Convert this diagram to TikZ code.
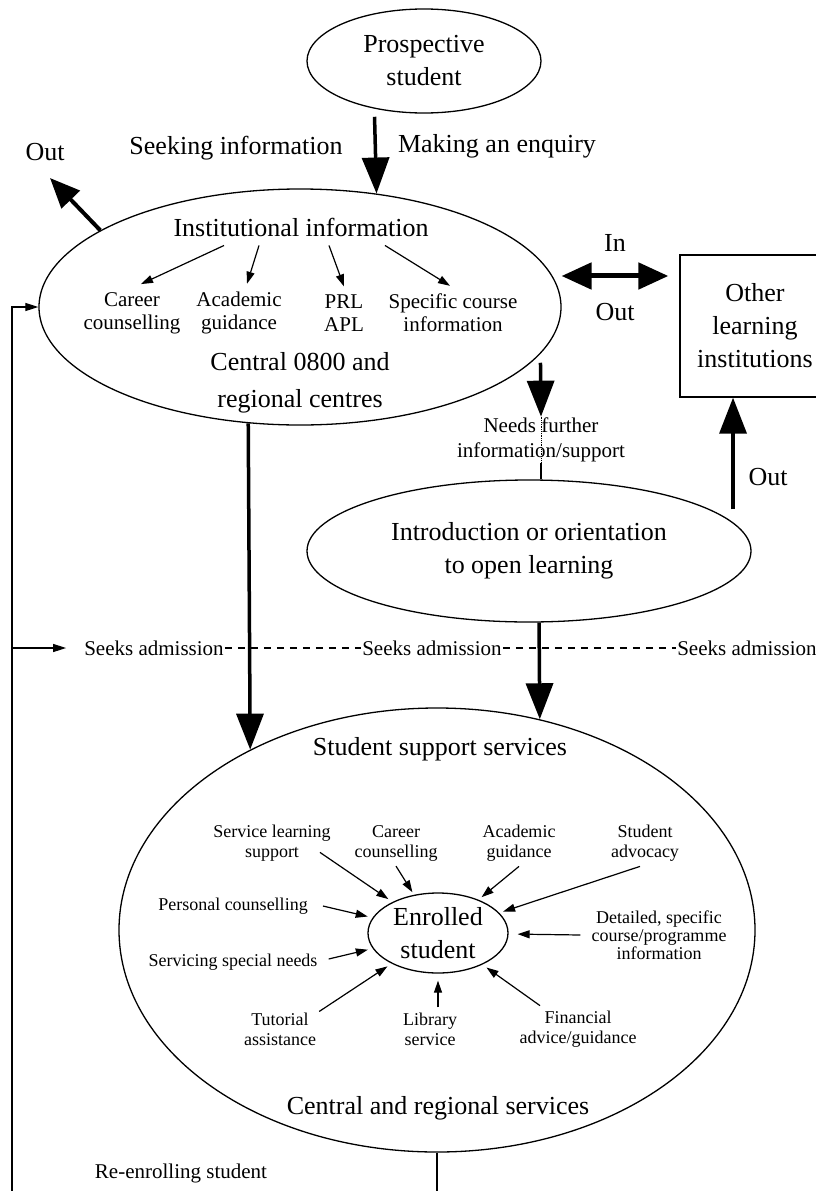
\documentclass[tikz,border=0pt]{standalone}
\usepackage{fontspec}
\setmainfont{Liberation Serif}
\usetikzlibrary{arrows.meta,shapes.geometric}

\begin{document}
\begin{tikzpicture}[x=1pt,y=-1pt,
	bubble/.style={ellipse,draw=black,line width=1.3pt,inner sep=0pt,align=center},
	bigtxt/.style={font=\fontsize{26}{33}\selectfont,align=center,inner sep=1pt},
	midtxt/.style={font=\fontsize{21}{23}\selectfont,align=center,inner sep=1pt},
	smalltxt/.style={font=\fontsize{18}{20}\selectfont,align=center,inner sep=1pt},
	bigarrow/.style={line width=3.5pt,-{Triangle[length=36pt,width=27pt]}},
	smallarrow/.style={line width=1.2pt,-{Triangle[length=12pt,width=8pt]}},
	thinline/.style={line width=1.2pt},
	dashline/.style={line width=1.2pt,dash pattern=on 7pt off 6pt}]
	\useasboundingbox (0, 0) rectangle (816, 1191);

	\node[bubble,bigtxt,minimum width=234pt,minimum height=104pt] (pros) at (424, 61) {Prospective\\student};
	\node[bubble,minimum width=522pt,minimum height=236pt] (inst) at (300, 307) {};
	\node[bubble,bigtxt,minimum width=444pt,minimum height=142pt] (intro) at (529, 551) {Introduction or orientation\\to open learning};
	\node[bubble,minimum width=636pt,minimum height=444pt] (supp) at (437, 930) {};
	\node[bubble,bigtxt,minimum width=140pt,minimum height=80pt] (enr) at (438, 933) {Enrolled\\student};
	\node[draw=black,line width=1.3pt,bigtxt,minimum width=150pt,minimum height=142pt] (box) at (755, 326) {Other\\learning\\institutions};

	\node[bigtxt] (seekinfo) at (236, 148) {Seeking information};
	\node[bigtxt] (enquiry) at (497, 146) {Making an enquiry};
	\node[bigtxt] (outa) at (45, 152) {Out};
	\coordinate (outtip) at (50, 178);
	\node[bigtxt] (iinfo) at (301, 227) {Institutional information};
	\node[midtxt] (career) at (132, 313) {Career\\counselling};
	\node[midtxt] (acad) at (239, 313) {Academic\\guidance};
	\node[midtxt] (prl) at (344, 313) {PRL\\APL};
	\node[midtxt] (spec) at (453, 313) {Specific course\\information};
	\node[bigtxt,font=\fontsize{26}{37}\selectfont] (central) at (300, 383) {Central 0800 and\\regional centres};
	\node[bigtxt] (inb) at (615, 243) {In};
	\node[bigtxt] (outb) at (615, 312) {Out};
	\node[midtxt,font=\fontsize{21}{25}\selectfont] (needs) at (541, 440) {Needs further\\information/support};
	\node[bigtxt] (outc) at (768, 477) {Out};

	\node[midtxt] (seeksa) at (154, 648) {Seeks admission};
	\node[midtxt] (seeksb) at (432, 648) {Seeks admission};
	\node[midtxt] (seeksc) at (747, 648) {Seeks admission};

	\node[bigtxt] (sss) at (440, 749) {Student support services};
	\node[bigtxt] (crs) at (438, 1108) {Central and regional services};
	\node[smalltxt] (svc) at (272, 843) {Service learning\\support};
	\node[smalltxt] (car2) at (396, 843) {Career\\counselling};
	\node[smalltxt] (acad2) at (519, 843) {Academic\\guidance};
	\node[smalltxt] (adv) at (645, 843) {Student\\advocacy};
	\node[smalltxt] (pers) at (233, 906) {Personal counselling};
	\node[smalltxt] (spn) at (233, 962) {Servicing special needs};
	\node[smalltxt,font=\fontsize{18}{18}\selectfont] (det) at (659, 935) {Detailed, specific\\course/programme\\information};
	\node[smalltxt] (tut) at (280, 1029) {Tutorial\\assistance};
	\node[smalltxt] (lib) at (430, 1029) {Library\\service};
	\node[smalltxt] (fin) at (578, 1029) {Financial\\advice/guidance};
	\node[midtxt] (reenr) at (181, 1173) {Re-enrolling student};

	\coordinate (lbot) at (12, 1191);
	\coordinate (iol) at ([xshift=9pt]inst.7);
	\coordinate (ior) at (iol -| box.west);
	\coordinate (outd) at ([yshift=13pt]intro.8);

	\path[bigarrow] ([yshift=-8pt]pros.-136) edge node {} (inst.56);
	\path[bigarrow,line width=4pt,-{Triangle[length=30pt,width=25pt]}] (inst.159) edge node {} (outtip);
	\path[bigarrow,line width=5pt,{Triangle[length=30pt,width=26pt]}-{Triangle[length=30pt,width=26pt]}] (iol) edge node {} ([xshift=-11pt]ior);
	\path[bigarrow] ([yshift=-9pt]inst.-11) edge node {} (needs.north);
	\path[bigarrow] (outd) edge node {} (outd |- box.south);
	\path[bigarrow] (inst.-114) edge node {} (supp.136);
	\path[bigarrow] (intro.-82) edge node {} (supp.64);

	\draw[densely dotted,line width=0.8pt] (needs.north) -- (needs.south);
	\path[thinline] (needs.south) edge node {} (needs.south |- intro.north);

	\path[smallarrow] ([xshift=-77pt,yshift=-8pt]iinfo.south) edge node {} ([xshift=9pt,yshift=7pt]career.north);
	\path[smallarrow] ([xshift=-42pt,yshift=-8pt]iinfo.south) edge node {} ([xshift=8pt,yshift=7pt]acad.north);
	\path[smallarrow] ([xshift=28pt,yshift=-8pt]iinfo.south) edge node {} ([yshift=7pt]prl.north);
	\path[smallarrow] ([xshift=84pt,yshift=-8pt]iinfo.south) edge node {} ([xshift=-3pt,yshift=7pt]spec.north);

	\draw[thinline,-{Triangle[length=13pt,width=8pt]}] (lbot) |- (inst.west);
	\draw[thinline,-{Triangle[length=13pt,width=8pt]}] (lbot |- seeksa) -- ([xshift=-17pt]seeksa.west);
	\path[dashline] (seeksa) edge node {} (seeksb);
	\path[dashline] (seeksb) edge node {} (seeksc);
	\draw[thinline] (supp.south) -- (supp.south |- lbot);

	\path[smallarrow,shorten >=5pt] ([xshift=-12pt,yshift=10pt]svc.south east) edge node {} (enr);
	\path[smallarrow,shorten >=3pt] ([yshift=-4pt]car2.south) edge node {} (enr);
	\path[smallarrow,shorten >=4pt] ([yshift=-4pt]acad2.south) edge node {} (enr);
	\path[smallarrow,shorten >=4pt] ([xshift=-5pt,yshift=-4pt]adv.south) edge node {} (enr);
	\path[smallarrow,shorten >=5pt] ([xshift=14pt]pers.east) edge node {} (enr);
	\path[smallarrow,shorten >=5pt] ([xshift=10pt,yshift=3pt]spn.east) edge node {} (enr);
	\path[smallarrow,shorten >=9pt] ([xshift=-10pt]det.west) edge node {} (enr);
	\path[smallarrow,shorten >=5pt] ([xshift=2pt]tut.north east) edge node {} (enr);
	\path[smallarrow,shorten >=7pt] ([xshift=8pt,yshift=4pt]lib.north) edge node {} (enr);
	\path[smallarrow,shorten >=5pt] ([xshift=-38pt,yshift=4pt]fin.north) edge node {} (enr);
\end{tikzpicture}
\end{document}
